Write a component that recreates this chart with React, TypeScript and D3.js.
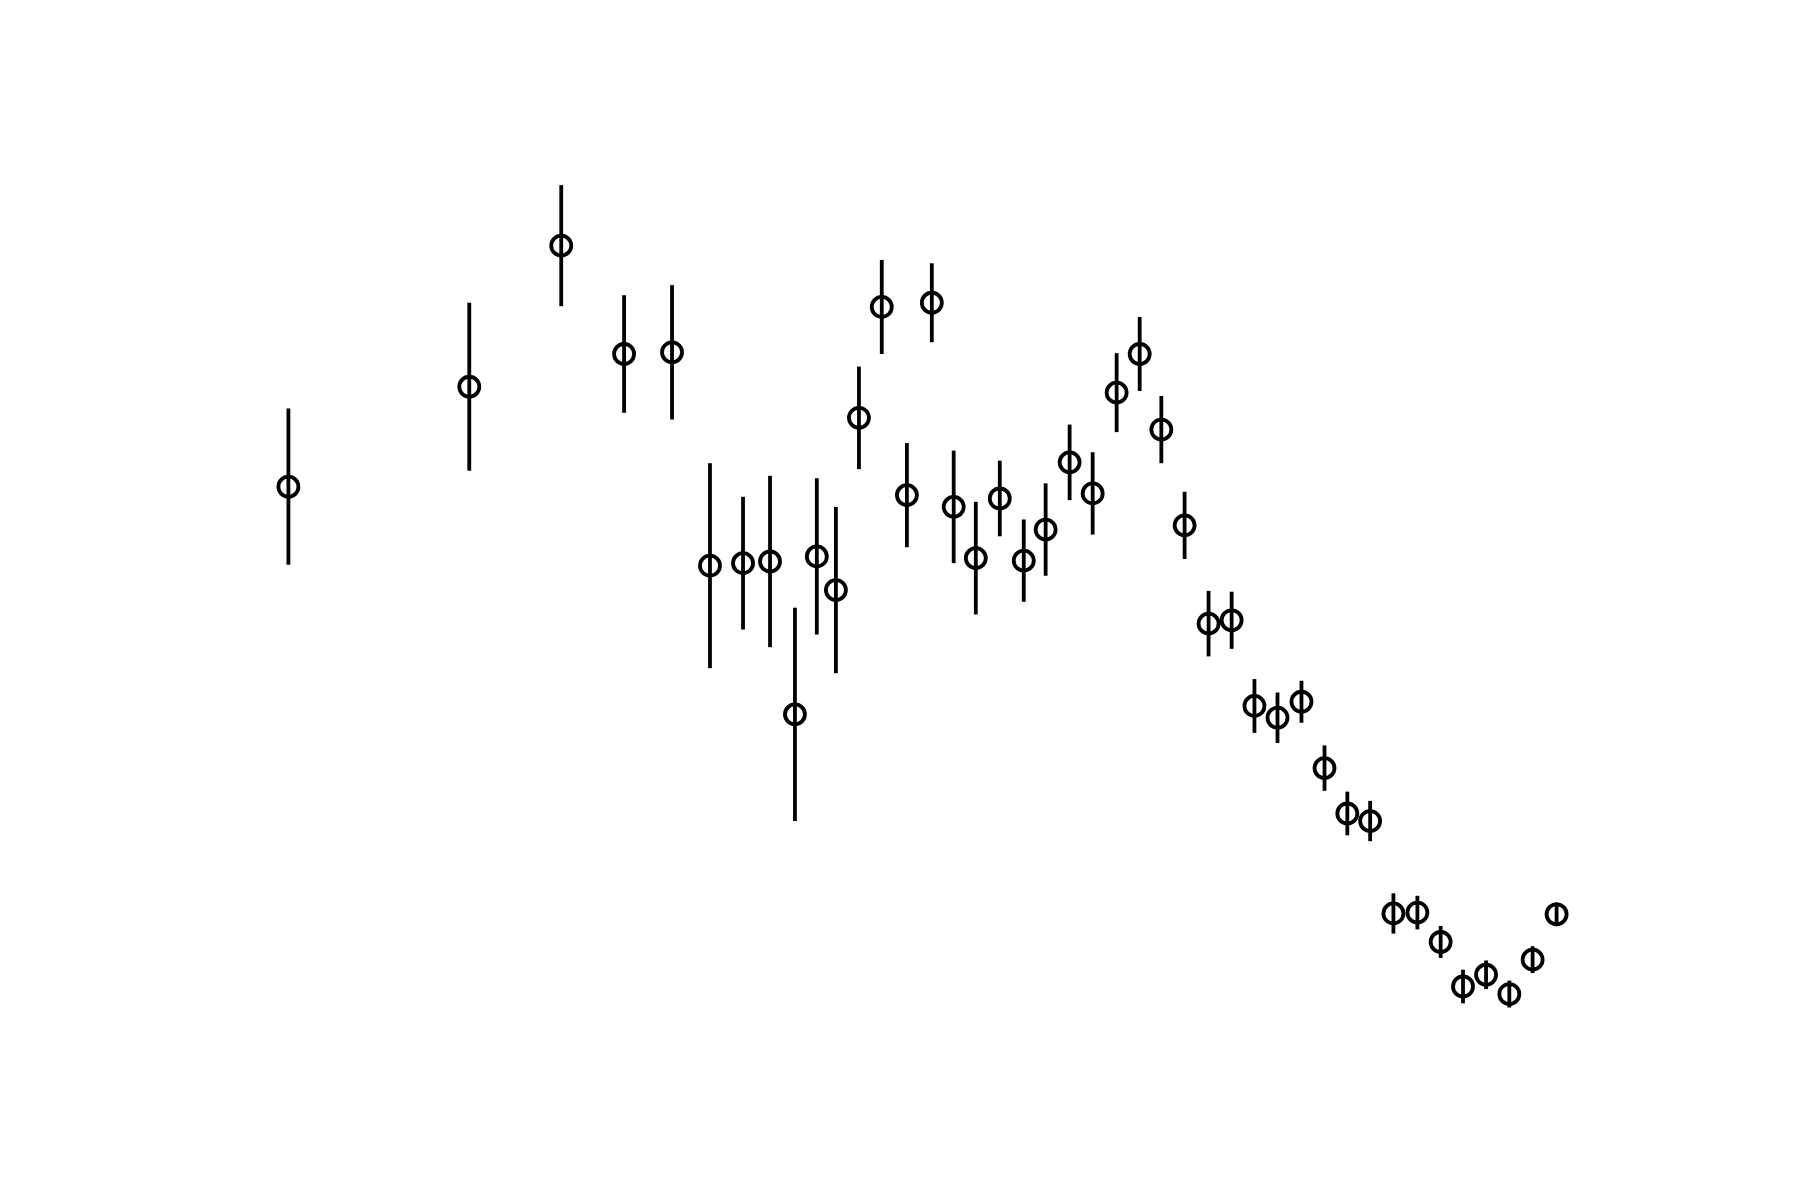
import * as d3 from "d3";

// positions along x (arbitrary units)
const xValues = [
  0, 7.77, 11.72, 14.42, 16.48, 18.11, 19.53, 20.69, 21.76, 22.7, 23.52, 24.51, 25.49, 26.57,
  27.64, 28.58, 29.53, 30.56, 31.59, 32.53, 33.56, 34.55, 35.58, 36.57, 37.5, 38.5, 39.53,
  40.52, 41.5, 42.49, 43.52, 44.51, 45.49, 46.47, 47.47, 48.5, 49.5, 50.46, 51.45, 52.45,
  53.45, 54.48,
];

const yValues = [
  6.92, 8.11, 9.79, 8.5, 8.52, 5.98, 6.01, 6.03, 4.21, 6.09, 5.69, 7.74, 9.06, 6.82, 9.11,
  6.68, 6.07, 6.78, 6.04, 6.41, 7.21, 6.84, 8.04, 8.5, 7.6, 6.46, 5.29, 5.33, 4.31, 4.17,
  4.36, 3.57, 3.03, 2.94, 1.84, 1.85, 1.5, 0.97, 1.11, 0.88, 1.29, 1.83,
];

const yErrors = [
  0.93, 1.0, 0.72, 0.7, 0.8, 1.22, 0.79, 1.02, 1.27, 0.93, 0.99, 0.61, 0.56, 0.62, 0.47,
  0.67, 0.67, 0.45, 0.49, 0.55, 0.45, 0.49, 0.47, 0.44, 0.4, 0.4, 0.39, 0.34, 0.32, 0.3,
  0.25, 0.27, 0.26, 0.24, 0.24, 0.2, 0.19, 0.2, 0.17, 0.16, 0.16, 0.14,
];

const App = () => {
  const width = 1800;
  const height = 1200;
  const left = 225;
  const right = 1620;
  const top = 144;
  const bottom = 1068;

  const [xMin, xMax] = d3.extent(xValues) as [number, number];
  const pad = (xMax - xMin) * 0.05;

  const x = d3.scaleLinear().domain([xMin - pad, xMax + pad]).range([left, right]);
  const y = d3.scaleLinear().domain([0, 11]).range([bottom, top]);

  const points = xValues.map((v, i) => ({ x: v, y: yValues[i], e: yErrors[i] }));

  return (
    <svg
      width={width}
      height={height}
      style={{ position: "absolute", left: 0, top: 0, background: "#fff" }}
    >
      <g stroke="#000" strokeWidth={3.8}>
        {points.map((d, i) => (
          <line key={i} x1={x(d.x)} x2={x(d.x)} y1={y(d.y - d.e)} y2={y(d.y + d.e)} />
        ))}
      </g>
      <g stroke="#000" strokeWidth={3.8} fill="none">
        {points.map((d, i) => (
          <circle key={i} cx={x(d.x)} cy={y(d.y)} r={10} />
        ))}
      </g>
    </svg>
  );
};

export default App;
